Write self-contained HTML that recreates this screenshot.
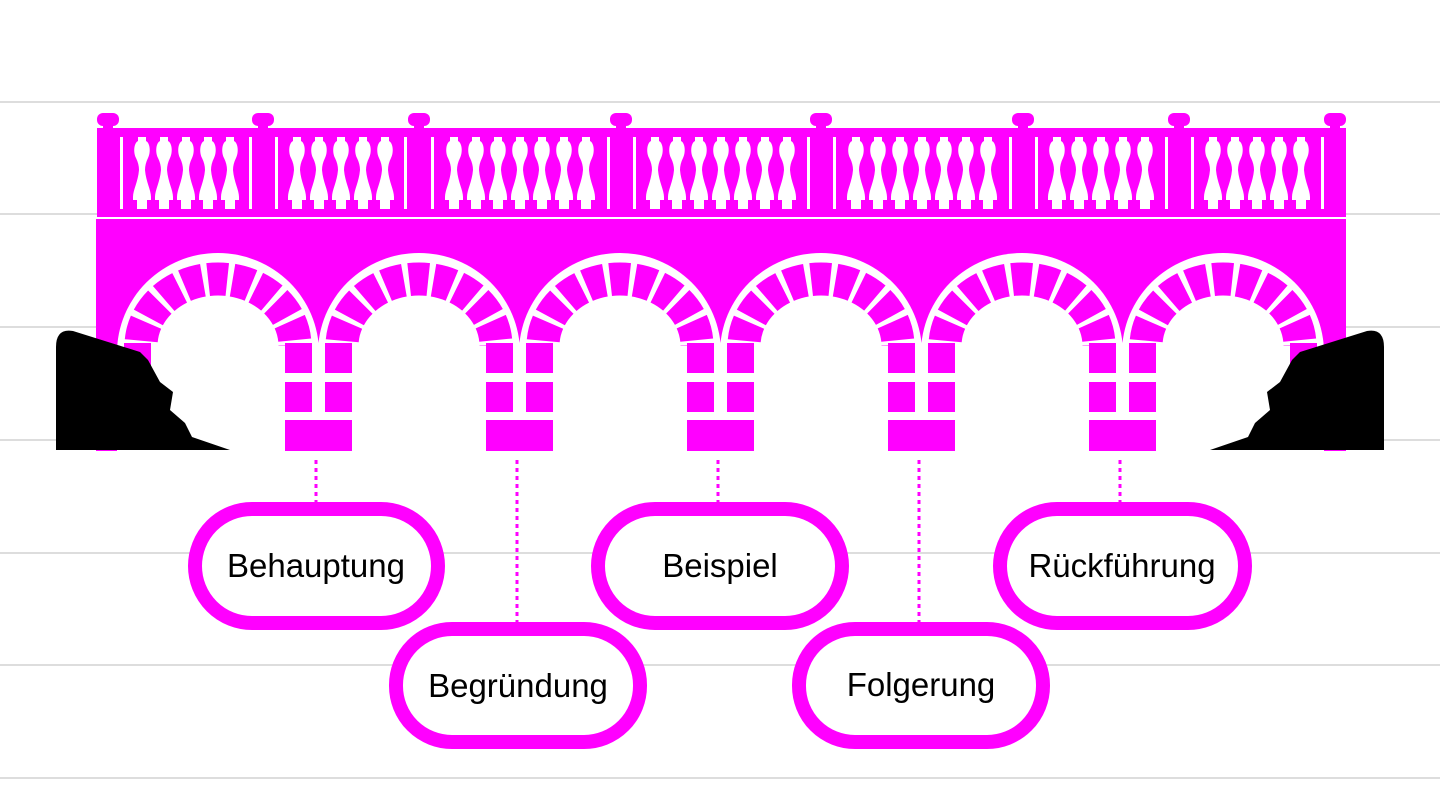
<!DOCTYPE html>
<html><head><meta charset="utf-8"><style>
html,body{margin:0;padding:0;background:#fff}
svg{display:block}
text{font-family:"Liberation Sans",sans-serif;font-size:33px;fill:#000}
</style></head><body>
<svg width="1440" height="810" viewBox="0 0 1440 810" xmlns="http://www.w3.org/2000/svg">
<defs>
<path id="bal" fill="#fff" d="M-4 137 H4 V141 C8 143 9 152 6 158 C4 162 3 166 3 170 C4 182 9 190 9 197 L9 200 H5 V209 H-5 V200 H-9 V197 C-9 190 -4 182 -3 170 C-3 166 -4 162 -6 158 C-9 152 -8 143 -4 141 Z"/>
<g id="aw">
  <ellipse cx="0" cy="353" rx="101" ry="100" fill="#fff"/>
  <rect x="-101" y="353" width="202" height="98" fill="#fff"/>
</g>
<g id="am">
  <path d="M-77 346 A77 67 0 0 1 77 346" fill="none" stroke="#f0f" stroke-width="33" stroke-dasharray="19.2 5.3" stroke-dashoffset="-5.3"/>
  <rect x="-94" y="343" width="27" height="30" fill="#f0f"/>
  <rect x="-94" y="382" width="27" height="30" fill="#f0f"/>
  <rect x="67" y="343" width="27" height="30" fill="#f0f"/>
  <rect x="67" y="382" width="27" height="30" fill="#f0f"/>
</g>
<rect id="base" x="67" y="420" width="67" height="31" fill="#f0f"/>
<g id="cap"><rect x="-11" y="113" width="22" height="13" rx="6" fill="#f0f"/><rect x="-5" y="124" width="10" height="6" fill="#f0f"/></g>
</defs>
<g stroke="#ddd" stroke-width="2">
<line x1="0" y1="102" x2="1440" y2="102"/><line x1="0" y1="214" x2="1440" y2="214"/>
<line x1="0" y1="327" x2="1440" y2="327"/><line x1="0" y1="440" x2="1440" y2="440"/>
<line x1="0" y1="553" x2="1440" y2="553"/><line x1="0" y1="665" x2="1440" y2="665"/>
<line x1="0" y1="778" x2="1440" y2="778"/>
</g>
<rect x="97" y="128" width="1249" height="89" fill="#f0f"/>
<use href="#cap" x="108"/><use href="#cap" x="263"/><use href="#cap" x="419"/><use href="#cap" x="621"/>
<use href="#cap" x="821"/><use href="#cap" x="1023"/><use href="#cap" x="1179"/><use href="#cap" x="1335"/>
<g fill="#fff">
<rect x="120" y="137" width="3" height="72"/><rect x="249" y="137" width="3" height="72"/>
<rect x="275" y="137" width="3" height="72"/><rect x="404" y="137" width="3" height="72"/>
<rect x="431" y="137" width="3" height="72"/><rect x="607" y="137" width="3" height="72"/>
<rect x="633" y="137" width="3" height="72"/><rect x="807" y="137" width="3" height="72"/>
<rect x="833" y="137" width="3" height="72"/><rect x="1009" y="137" width="3" height="72"/>
<rect x="1035" y="137" width="3" height="72"/><rect x="1165" y="137" width="3" height="72"/>
<rect x="1191" y="137" width="3" height="72"/><rect x="1321" y="137" width="3" height="72"/>
</g>
<use href="#bal" x="142"/><use href="#bal" x="164"/><use href="#bal" x="186"/><use href="#bal" x="208"/><use href="#bal" x="230"/>
<use href="#bal" x="297"/><use href="#bal" x="319"/><use href="#bal" x="341"/><use href="#bal" x="363"/><use href="#bal" x="385"/>
<use href="#bal" x="454"/><use href="#bal" x="476"/><use href="#bal" x="498"/><use href="#bal" x="520"/><use href="#bal" x="542"/><use href="#bal" x="564"/><use href="#bal" x="586"/>
<use href="#bal" x="655"/><use href="#bal" x="677"/><use href="#bal" x="699"/><use href="#bal" x="721"/><use href="#bal" x="743"/><use href="#bal" x="765"/><use href="#bal" x="787"/>
<use href="#bal" x="856"/><use href="#bal" x="878"/><use href="#bal" x="900"/><use href="#bal" x="922"/><use href="#bal" x="944"/><use href="#bal" x="966"/><use href="#bal" x="988"/>
<use href="#bal" x="1057"/><use href="#bal" x="1079"/><use href="#bal" x="1101"/><use href="#bal" x="1123"/><use href="#bal" x="1145"/>
<use href="#bal" x="1213"/><use href="#bal" x="1235"/><use href="#bal" x="1257"/><use href="#bal" x="1279"/><use href="#bal" x="1301"/>
<rect x="96" y="219" width="1250" height="232" fill="#f0f"/>
<use href="#aw" x="218"/><use href="#aw" x="419"/><use href="#aw" x="620"/>
<use href="#aw" x="821"/><use href="#aw" x="1022"/><use href="#aw" x="1223"/>
<use href="#am" x="218"/><use href="#am" x="419"/><use href="#am" x="620"/>
<use href="#am" x="821"/><use href="#am" x="1022"/><use href="#am" x="1223"/>
<use href="#base" x="218"/><use href="#base" x="419"/><use href="#base" x="620"/><use href="#base" x="821"/><use href="#base" x="1022"/>
<path d="M56 450 V347 Q56 328 73 331 L140 352 L148 360 L160 382 L173 392 L170 410 L185 423 L192 437 L230 450 Z" fill="#000"/>
<path d="M56 450 V347 Q56 328 73 331 L140 352 L148 360 L160 382 L173 392 L170 410 L185 423 L192 437 L230 450 Z" fill="#000" transform="translate(1440 0) scale(-1 1)"/>
<g stroke="#f0f" stroke-width="3" stroke-dasharray="4 4">
<line x1="316" y1="460" x2="316" y2="502"/><line x1="517" y1="460" x2="517" y2="622"/>
<line x1="718" y1="460" x2="718" y2="502"/><line x1="919" y1="460" x2="919" y2="622"/>
<line x1="1120" y1="460" x2="1120" y2="502"/>
</g>
<g fill="#fff" stroke="#f0f" stroke-width="14">
<rect x="195" y="509" width="243" height="114" rx="57"/>
<rect x="396" y="629" width="244" height="113" rx="56"/>
<rect x="598" y="509" width="244" height="114" rx="57"/>
<rect x="799" y="629" width="244" height="113" rx="56"/>
<rect x="1000" y="509" width="245" height="114" rx="57"/>
</g>
<g text-anchor="middle">
<text x="316" y="577">Behauptung</text>
<text x="518" y="697">Begründung</text>
<text x="720" y="577">Beispiel</text>
<text x="921" y="696">Folgerung</text>
<text x="1122" y="577">Rückführung</text>
</g>
</svg>
</body></html>
